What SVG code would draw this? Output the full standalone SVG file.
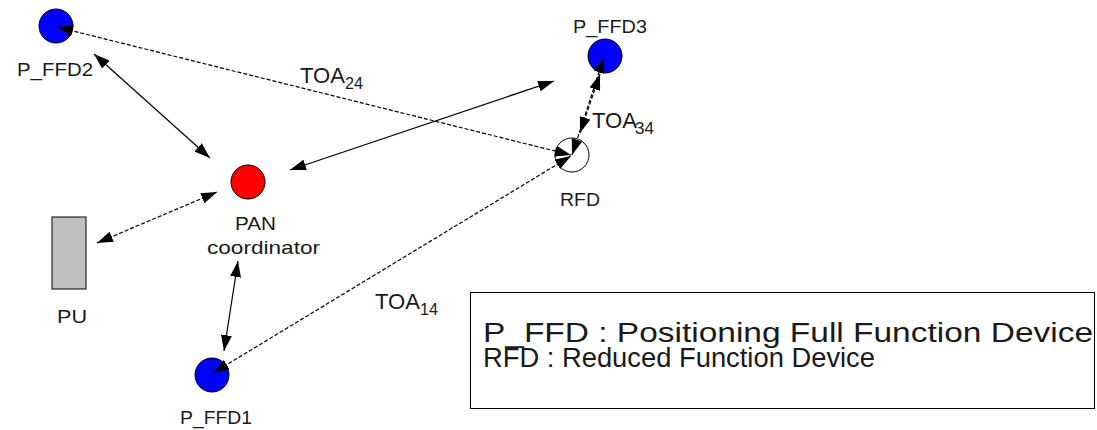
<svg xmlns="http://www.w3.org/2000/svg" width="1097" height="430" viewBox="0 0 1097 430">
<style>
  text { font-family: "Liberation Sans", Arial, sans-serif; fill: #1a1a1a; }
  .lbl { font-size: 19px; }
  .toa { font-size: 22px; }
  .sub { font-size: 16px; }
  .leg { font-size: 27px; }
  .node { stroke: #000; stroke-width: 1; }
  .c { fill: none; stroke: #000; stroke-width: 1.2; marker-start: url(#ah); marker-end: url(#ah); }
  .d { stroke-dasharray: 4 2; }
</style>
<defs>
  <marker id="ah" markerUnits="userSpaceOnUse" markerWidth="16" markerHeight="11" refX="16" refY="5.5" orient="auto-start-reverse">
    <path d="M0,0 L16,5.5 L0,11 z" fill="#000"/>
  </marker>
</defs>
<rect width="1097" height="430" fill="#fff"/>

<g id="P_FFD2">
  <circle class="node" cx="56" cy="26" r="17" fill="#0000ff"/>
  <text class="lbl" x="17" y="76" textLength="76" lengthAdjust="spacingAndGlyphs">P_FFD2</text>
</g>
<g id="P_FFD3">
  <circle class="node" cx="605" cy="56" r="17" fill="#0000ff"/>
  <text class="lbl" x="573" y="33" textLength="74" lengthAdjust="spacingAndGlyphs">P_FFD3</text>
</g>
<g id="P_FFD1">
  <circle class="node" cx="212" cy="375" r="17" fill="#0000ff"/>
  <text class="lbl" x="180" y="424" textLength="72" lengthAdjust="spacingAndGlyphs">P_FFD1</text>
</g>
<g id="PAN">
  <circle class="node" cx="248" cy="182" r="17" fill="#ff0000"/>
  <text class="lbl" x="235" y="230" textLength="41" lengthAdjust="spacingAndGlyphs">PAN</text>
  <text class="lbl" x="207" y="254" textLength="113" lengthAdjust="spacingAndGlyphs">coordinator</text>
</g>
<g id="RFD">
  <circle class="node" cx="572" cy="155" r="17" fill="#fff"/>
  <text class="lbl" x="560" y="206" textLength="40" lengthAdjust="spacingAndGlyphs">RFD</text>
</g>
<g id="PU">
  <rect class="node" x="52" y="217" width="34" height="72" fill="#c0c0c0"/>
  <text class="lbl" x="57" y="323" textLength="30" lengthAdjust="spacingAndGlyphs">PU</text>
</g>
<g id="legend">
  <rect x="470.5" y="292.5" width="624" height="116" fill="none" stroke="#000" stroke-width="1"/>
  <text class="leg" x="483" y="342" textLength="610" lengthAdjust="spacingAndGlyphs">P_FFD : Positioning Full Function Device</text>
  <text class="leg" x="483" y="367" textLength="392" lengthAdjust="spacingAndGlyphs">RFD : Reduced Function Device</text>
</g>

<g id="connectors">
  <line class="c" x1="94" y1="54" x2="210" y2="158"/>
  <line class="c" x1="290" y1="170" x2="554" y2="81"/>
  <line class="c d" x1="97" y1="243" x2="217" y2="192"/>
  <line class="c" x1="238" y1="261" x2="224" y2="351"/>
  <line class="c d" x1="57" y1="27" x2="571" y2="155"/>
  <line class="c d" x1="213" y1="373" x2="571" y2="156"/>
  <line class="c d" x1="572" y1="155" x2="604" y2="57"/>
  <line class="c d" x1="580" y1="133" x2="600" y2="74"/>
</g>

<g id="edge-labels">
  <text class="toa" x="300" y="83" textLength="45" lengthAdjust="spacingAndGlyphs">TOA</text>
  <text class="sub" x="345" y="89" textLength="18" lengthAdjust="spacingAndGlyphs">24</text>
  <text class="toa" x="592" y="128" textLength="45" lengthAdjust="spacingAndGlyphs">TOA</text>
  <text class="sub" x="635" y="134" textLength="19" lengthAdjust="spacingAndGlyphs">34</text>
  <text class="toa" x="375" y="309" textLength="45" lengthAdjust="spacingAndGlyphs">TOA</text>
  <text class="sub" x="420" y="315" textLength="18" lengthAdjust="spacingAndGlyphs">14</text>
</g>
</svg>
